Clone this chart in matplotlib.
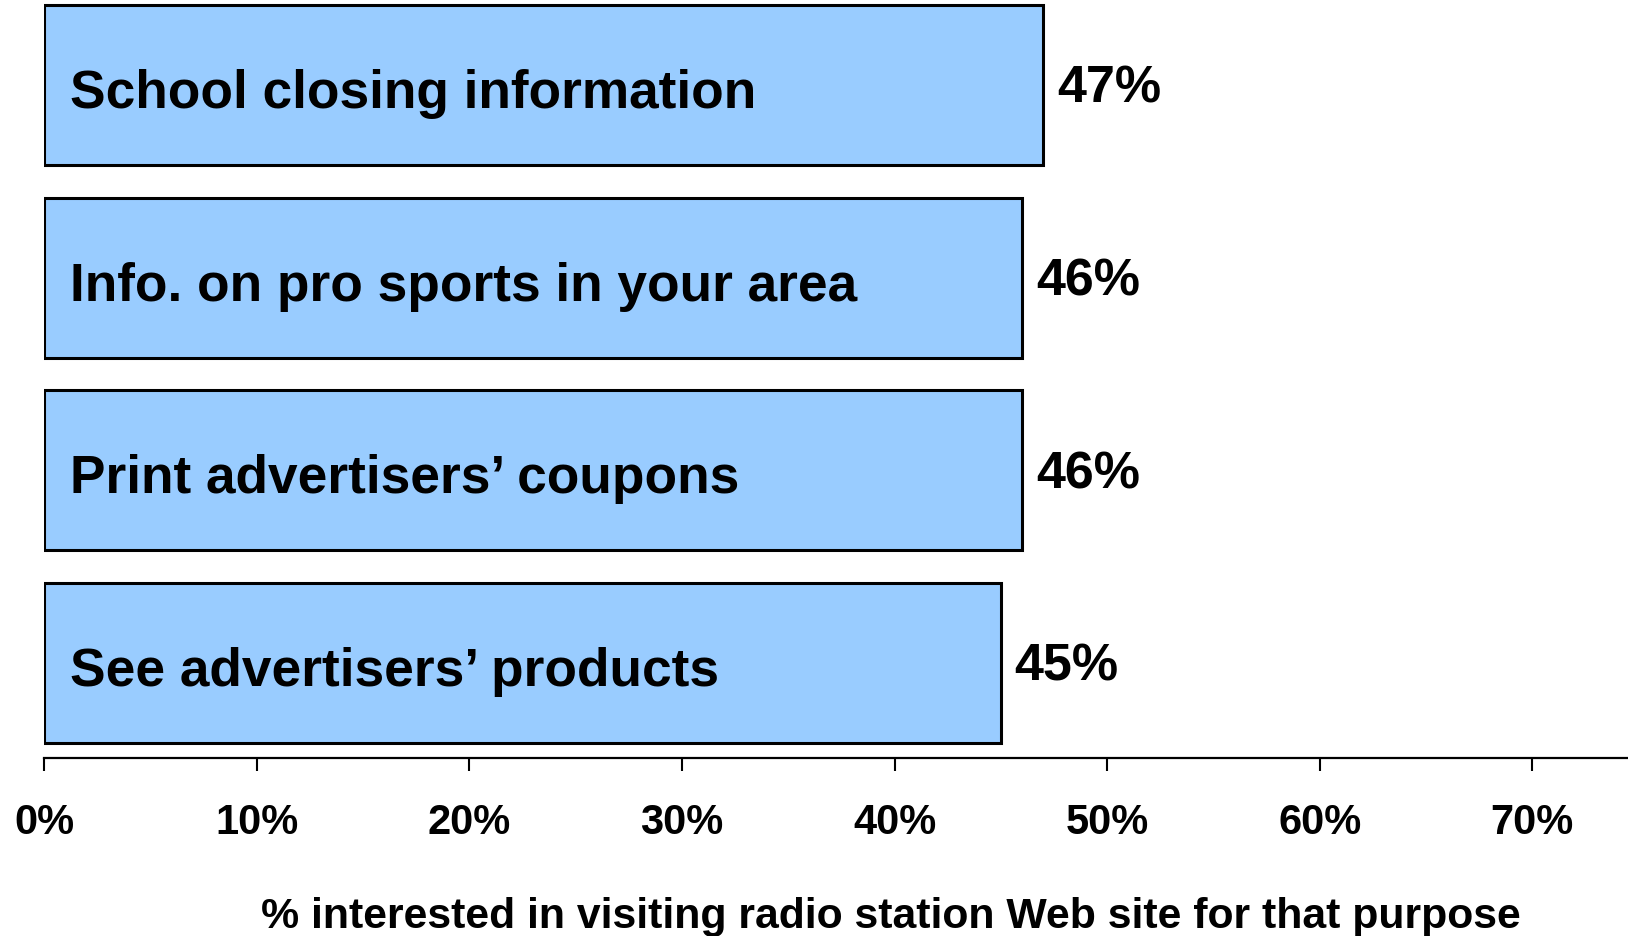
import matplotlib
matplotlib.use('Agg')
import matplotlib.pyplot as plt

categories = ['School closing information', 'Info. on pro sports in your area',
              "Print advertisers\u2019 coupons", "See advertisers\u2019 products"]
values = [47, 46, 46, 45]
ticks = [0, 10, 20, 30, 40, 50, 60, 70]
tick_labels = [f'{t}%' for t in ticks]
xlabel = '% interested in visiting radio station Web site for that purpose'

plt.rcParams['font.family'] = ['Liberation Sans', 'DejaVu Sans']
plt.rcParams['font.weight'] = 'bold'

fig = plt.figure(figsize=(16.28, 9.37), dpi=100)
ax = fig.add_axes([0.0271, 0.1896, 0.9729, 0.8104])

ypos = list(range(len(categories)))
ax.barh(ypos, values, height=0.83, color='#99CCFF', edgecolor='black', linewidth=2.2)
for y, v, c in zip(ypos, values, categories):
    ax.text(1.2, y + 0.114, c, va='baseline', ha='left', fontsize=38.3, fontweight='bold')
    ax.text(v + 0.65, y + 0.088, f'{v}%', va='baseline', ha='left', fontsize=37.5, fontweight='bold')

ax.set_xlim(0, 74.5)
ax.set_ylim(3 + 0.4946, -0.446)
ax.set_xticks(ticks)
ax.set_xticklabels(tick_labels, fontsize=30, fontweight='bold')
ax.set_yticks([])
for s in ['top', 'right', 'left']:
    ax.spines[s].set_visible(False)
ax.spines['bottom'].set_linewidth(1.6)
ax.tick_params(axis='x', length=9.4, width=1.5, pad=22)

fig.text(891 / 1628, 1 - 928 / 937, xlabel, ha='center', va='baseline', fontsize=30.8, fontweight='bold')

fig.savefig('out.png', dpi=100)
